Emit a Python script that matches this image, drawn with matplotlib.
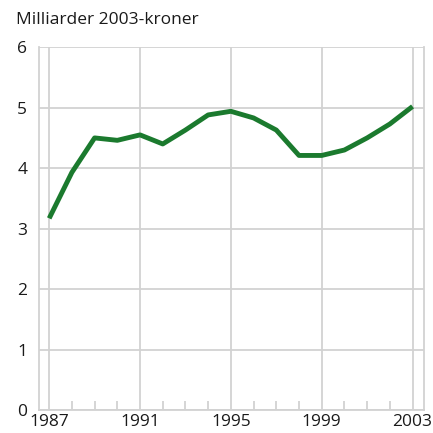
import matplotlib
matplotlib.use("Agg")
import matplotlib.pyplot as plt
from matplotlib.ticker import MultipleLocator

plt.rcParams['font.family'] = ['Open Sans', 'DejaVu Sans']

# data
years = [1987, 1988, 1989, 1990, 1991, 1992, 1993, 1994, 1995,
         1996, 1997, 1998, 1999, 2000, 2001, 2002, 2003]
values = [3.17, 3.93, 4.50, 4.46, 4.55, 4.40, 4.63, 4.88, 4.94,
          4.83, 4.63, 4.21, 4.21, 4.30, 4.50, 4.73, 5.02]
xticks = [1987, 1991, 1995, 1999, 2003]
yticks = [0, 1, 2, 3, 4, 5, 6]

grid_c = '#d2d2d2'

fig = plt.figure(figsize=(4.33, 4.33), dpi=100)
ax = fig.add_axes([0.090, 0.053, 0.889, 0.838])

ax.plot(years, values, color='#1b7a2e', lw=3.5, solid_capstyle='butt', zorder=3)

ax.set_xlim(1986.55, 2003.5)
ax.set_ylim(0, 6)
ax.set_xticks(xticks)
ax.set_yticks(yticks)
ax.xaxis.set_minor_locator(MultipleLocator(1))

ax.grid(True, which='major', color=grid_c, lw=1.3, zorder=0)
for s in ax.spines.values():
    s.set_color(grid_c)
    s.set_linewidth(1.3)
ax.spines['top'].set_visible(False)

ax.tick_params(which='major', length=0, labelsize=12.5, colors='#1a1a1a')
ax.tick_params(axis='x', which='major', pad=2.5)
ax.tick_params(axis='x', which='minor', direction='in', length=6.5, width=1.3, color=grid_c)
ax.tick_params(axis='y', which='minor', length=0)
ax.tick_params(axis='y', pad=8.5)

fig.text(0.038, 0.953, 'Milliarder 2003-kroner', fontsize=12.5, color='#1a1a1a', va='center')

fig.savefig('out.png', dpi=100)
